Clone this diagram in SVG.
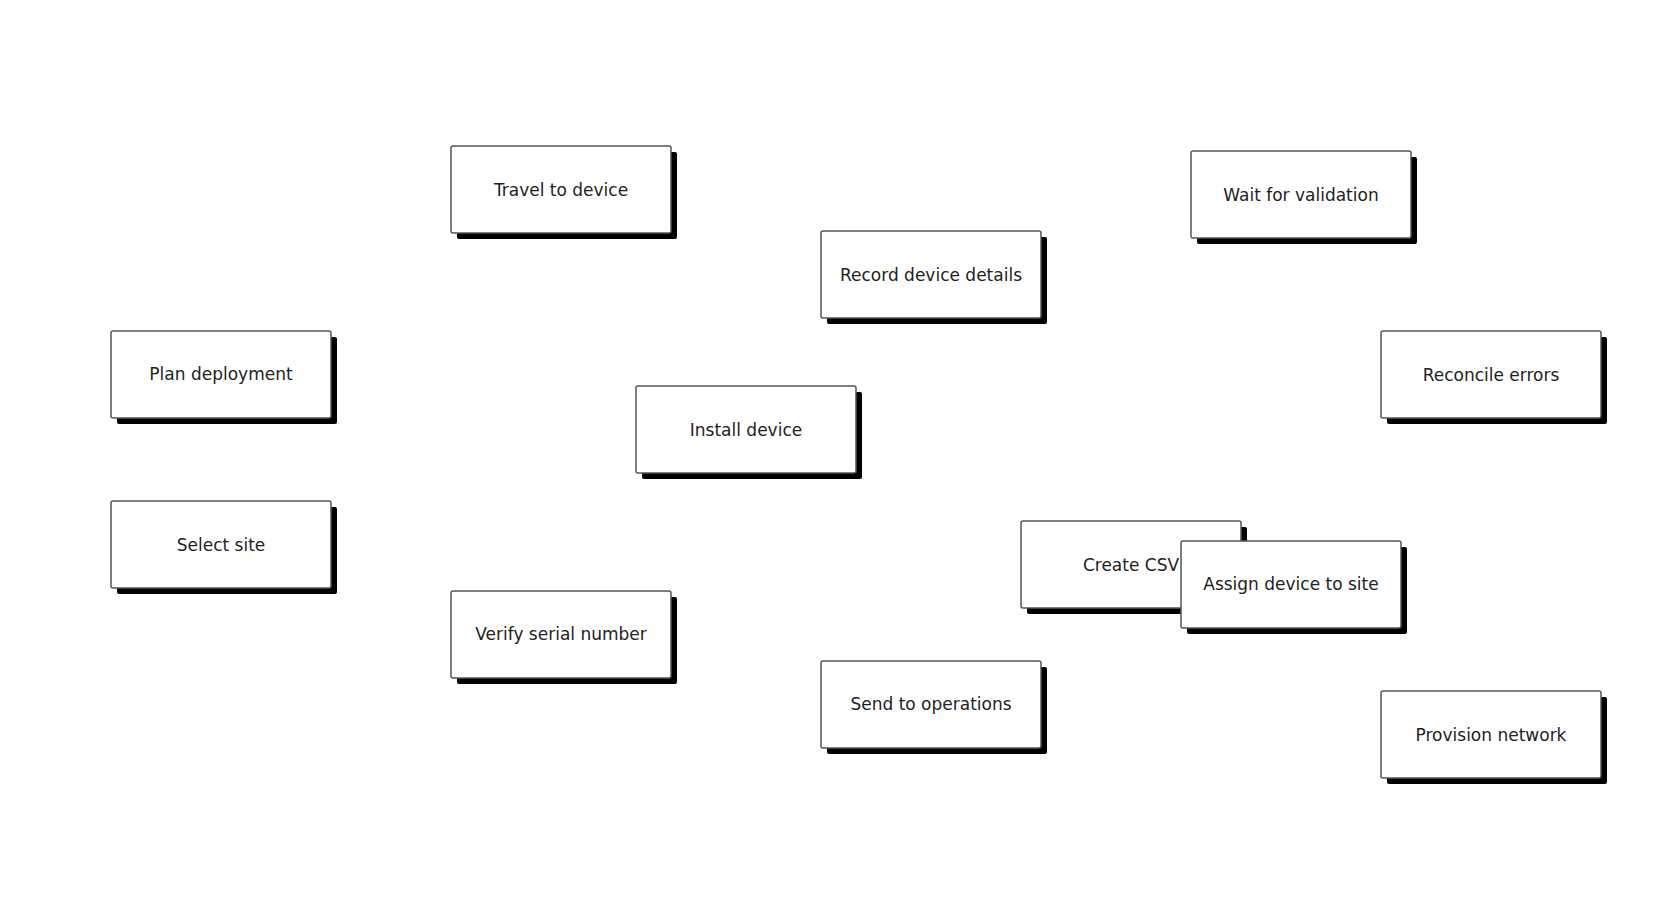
<svg xmlns="http://www.w3.org/2000/svg" width="1664" height="900" viewBox="0 0 1664 900">
<style>
.sh{fill:#000}
.bx{fill:#fff;stroke:#555;stroke-width:1.5}
.t{font-family:"DejaVu Sans",sans-serif;font-size:17px;fill:#222;text-anchor:middle;dominant-baseline:central}
</style>
<defs>
<g id="box"><rect class="sh" x="6" y="6" width="220" height="87" rx="2"/><rect class="bx" x="0" y="0" width="220" height="87" rx="2"/></g>
</defs>
<rect width="1664" height="900" fill="#fff"/>
<g id="connectors"></g>
<g id="n1" transform="translate(451,146)"><use href="#box"/><text class="t" x="110" y="44">Travel to device</text></g>
<g id="n2" transform="translate(1191,151)"><use href="#box"/><text class="t" x="110" y="44">Wait for validation</text></g>
<g id="n3" transform="translate(821,231)"><use href="#box"/><text class="t" x="110" y="44">Record device details</text></g>
<g id="n4" transform="translate(111,331)"><use href="#box"/><text class="t" x="110" y="43">Plan deployment</text></g>
<g id="n5" transform="translate(1381,331)"><use href="#box"/><text class="t" x="110" y="44">Reconcile errors</text></g>
<g id="n6" transform="translate(636,386)"><use href="#box"/><text class="t" x="110" y="44">Install device</text></g>
<g id="n7" transform="translate(111,501)"><use href="#box"/><text class="t" x="110" y="44">Select site</text></g>
<g id="n8" transform="translate(1021,521)"><use href="#box"/><text class="t" x="110" y="44">Create CSV</text></g>
<g id="n9" transform="translate(1181,541)"><use href="#box"/><text class="t" x="110" y="43">Assign device to site</text></g>
<g id="n10" transform="translate(451,591)"><use href="#box"/><text class="t" x="110" y="43">Verify serial number</text></g>
<g id="n11" transform="translate(821,661)"><use href="#box"/><text class="t" x="110" y="43">Send to operations</text></g>
<g id="n12" transform="translate(1381,691)"><use href="#box"/><text class="t" x="110" y="44">Provision network</text></g>
</svg>
